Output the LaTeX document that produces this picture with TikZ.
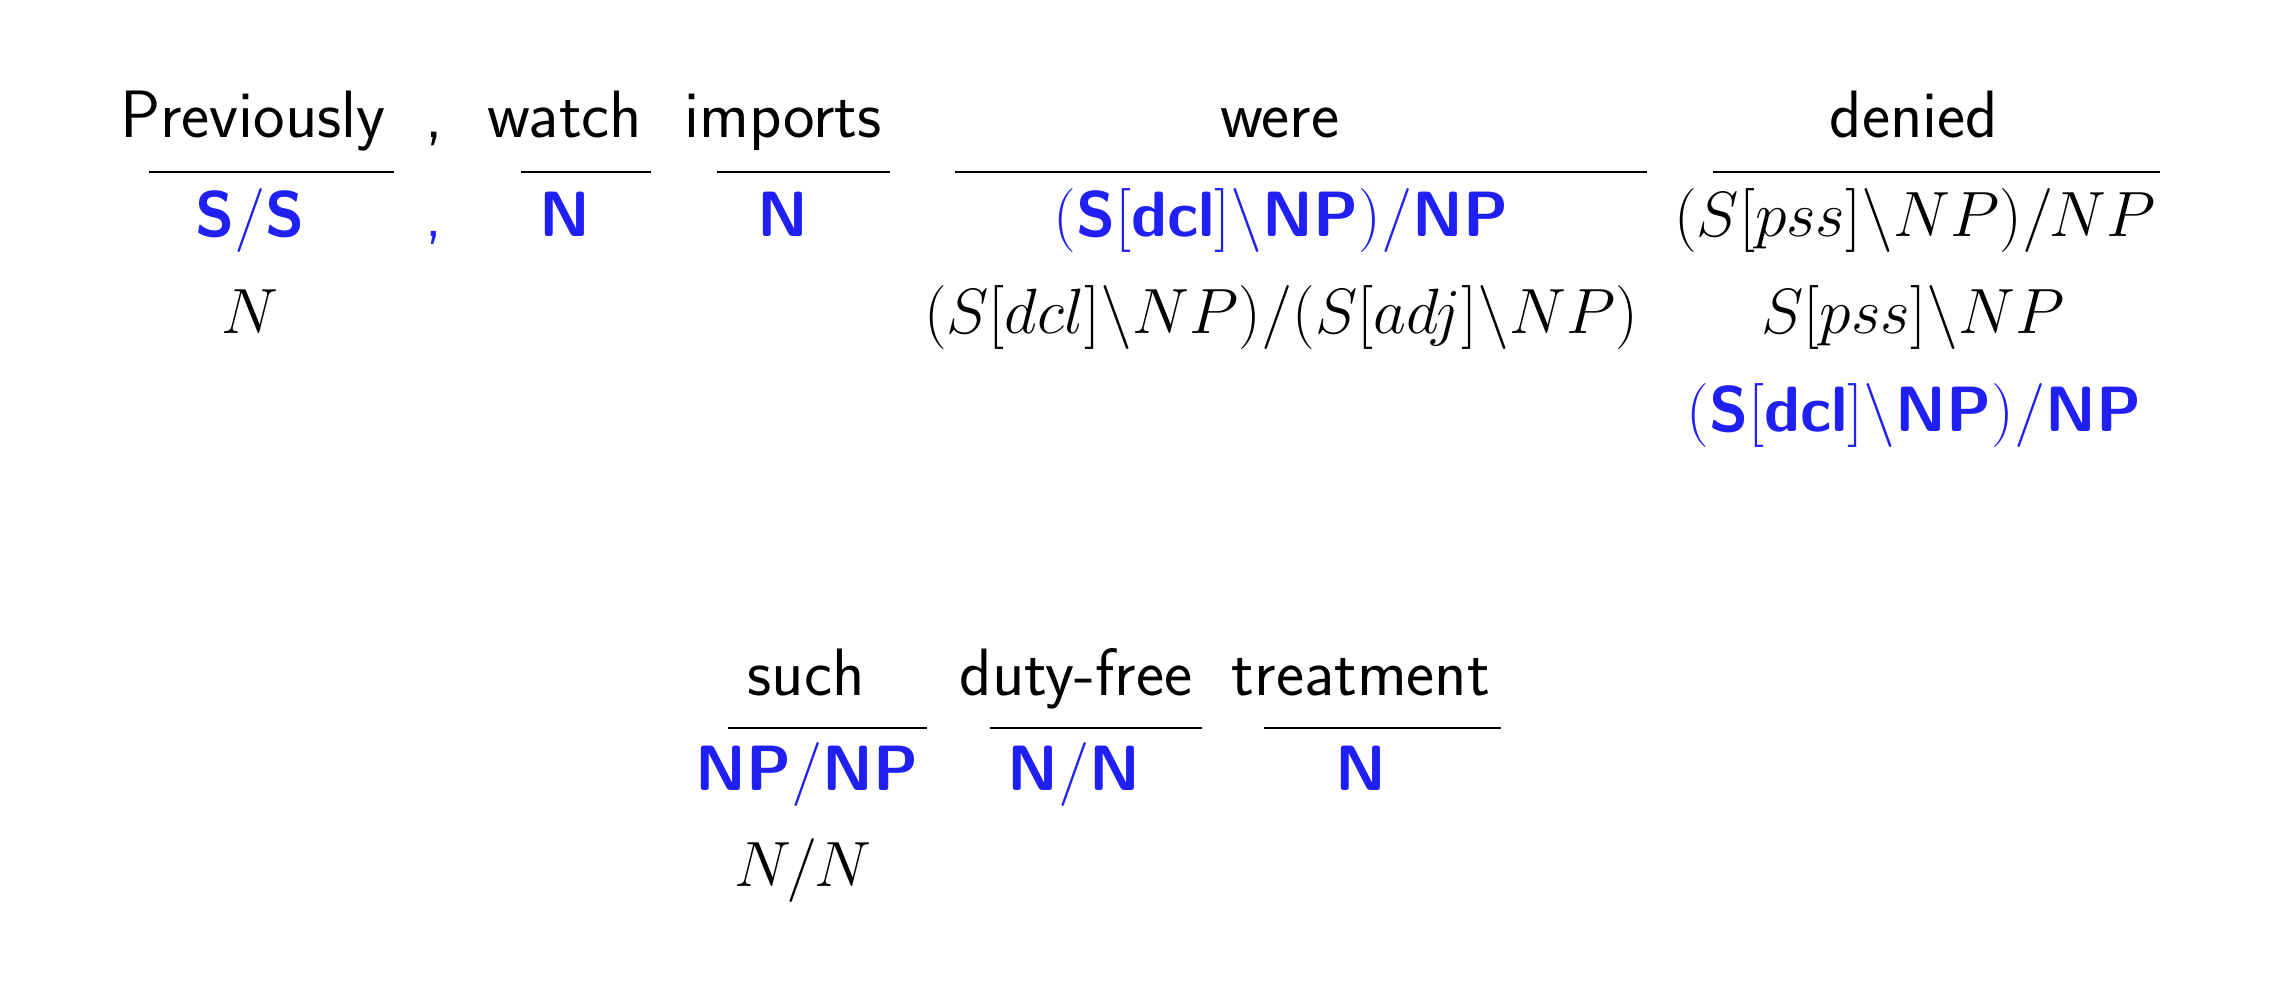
\documentclass[tikz,border=0pt]{standalone}
\usepackage{fix-cm}
\definecolor{ccgblue}{RGB}{32,32,245}
\newcommand{\bsf}[1]{\mbox{\sffamily\bfseries #1}}
\tikzset{
  word/.style={anchor=base,inner sep=0pt,font=\fontsize{33.5}{40}\selectfont\sffamily},
  gold/.style={anchor=base,inner sep=0pt,text=ccgblue,font=\fontsize{32}{38}\selectfont},
  cand/.style={anchor=base,inner sep=0pt,font=\fontsize{32}{38}\selectfont},
  rule/.style={line width=1pt}
}
\begin{document}
\begin{tikzpicture}[x=0.5pt,y=-0.5pt]
\useasboundingbox (0,0) rectangle (2270,1006);
% top row
\node[word] (w1) at (253,138) {Previously};
\node[word] (w2) at (434,138) {,};
\node[word] (w3) at (565,138) {watch};
\node[word] (w4) at (783,138) {imports};
\node[word] (w5) at (1280,138) {were};
\node[word] (w6) at (1914,138) {denied};
\draw[rule] (149,172) -- (394,172);
\draw[rule] (521,172) -- (651,172);
\draw[rule] (717,172) -- (890,172);
\draw[rule] (955,172) -- (1647,172);
\draw[rule] (1713,172) -- (2160,172);
\node[gold] (g1) at (250,236) {$\bsf{S}/\bsf{S}$};
\node[gold] (g2) at (434,236) {\sffamily ,};
\node[gold] (g3) at (565,236) {\bsf{N}};
\node[gold] (g4) at (783,236) {\bsf{N}};
\node[gold] (g5) at (1281,236) {$(\bsf{S}[\bsf{dcl}]\backslash\bsf{NP})/\bsf{NP}$};
\node[cand] (c6a) at (1915,236) {$(S[pss]\backslash NP)/NP$};
\node[cand] (c1) at (250,333) {$N$};
\node[cand] (c5) at (1281,333) {$(S[dcl]\backslash NP)/(S[adj]\backslash NP)$};
\node[cand] (c6b) at (1913,333) {$S[pss]\backslash NP$};
\node[gold] (g6) at (1914,431) {$(\bsf{S}[\bsf{dcl}]\backslash\bsf{NP})/\bsf{NP}$};
% bottom row
\node[word] (w7) at (806,695) {such};
\node[word] (w8) at (1076,695) {duty-free};
\node[word] (w9) at (1361,695) {treatment};
\draw[rule] (728,728) -- (927,728);
\draw[rule] (990,728) -- (1202,728);
\draw[rule] (1264,728) -- (1501,728);
\node[gold] (g7) at (807,790) {$\bsf{NP}/\bsf{NP}$};
\node[gold] (g8) at (1074,790) {$\bsf{N}/\bsf{N}$};
\node[gold] (g9) at (1361,790) {\bsf{N}};
\node[cand] (c7) at (803,886) {$N/N$};
\end{tikzpicture}
\end{document}
